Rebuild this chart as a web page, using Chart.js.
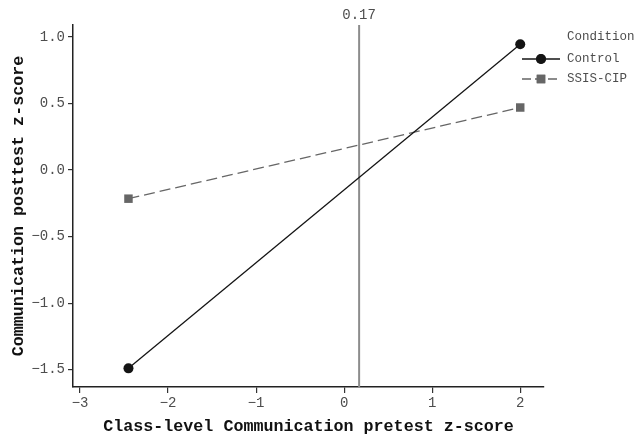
<!DOCTYPE html>
<html lang="en">
<head>
<meta charset="UTF-8">
<title>Communication posttest by pretest</title>
<script src="https://cdn.jsdelivr.net/npm/chart.js"></script>
<style>
  body { margin: 0; background: #fff; }
  #wrap { width: 635px; height: 439px; }
</style>
</head>
<body>
<div id="wrap"><canvas id="slopeChart"></canvas></div>
<script>
// values
const pretestX = [-2.45, 2.0];
const controlY = [-1.49, 0.945];
const ssisY = [-0.215, 0.47];
const seriesNames = ['Control', 'SSIS-CIP'];
const cutoff = 0.17;
const xTicks = [-3, -2, -1, 0, 1, 2];
const yTicks = [-1.5, -1.0, -0.5, 0.0, 0.5, 1.0];
const xRange = [-3.08, 2.27];
const yRange = [-1.63, 1.09];

const MONO = "'Liberation Mono', 'DejaVu Sans Mono', monospace";
Chart.defaults.font.family = MONO;

function minus(s) { return s.replace('-', '\u2212'); }

function toPoints(xs, ys) {
    return xs.map((x, i) => ({ x: x, y: ys[i] }));
}

// legend drawn by hand: line + marker key, like the original
const conditionLegend = {
    id: 'conditionLegend',
    afterDraw(chart) {
        const ctx = chart.ctx;
        const area = chart.chartArea;
        const keyLeft = area.right - 22;
        const keyRight = keyLeft + 38;
        const textX = keyRight + 7;
        ctx.save();
        ctx.font = '12.5px ' + MONO;
        ctx.textBaseline = 'middle';
        ctx.fillStyle = '#4d4d4d';
        ctx.fillText('Condition', textX, 37);

        const rows = [59, 79];
        chart.data.datasets.slice(0, 2).forEach((ds, i) => {
            const y = rows[i];
            ctx.strokeStyle = ds.borderColor;
            ctx.lineWidth = ds.borderWidth;
            ctx.setLineDash(i === 0 ? [] : [9, 4]);
            ctx.beginPath();
            ctx.moveTo(keyLeft, y);
            ctx.lineTo(keyRight, y);
            ctx.stroke();
            ctx.setLineDash([]);
            Chart.helpers.drawPoint(ctx, {
                pointStyle: ds.pointStyle,
                radius: ds.pointRadius,
                borderWidth: 0
            }, (keyLeft + keyRight) / 2, y);
            ctx.fillStyle = ds.pointBackgroundColor;
            ctx.fill();
            ctx.fillStyle = '#4d4d4d';
            ctx.fillText(ds.label, textX, y);
        });
        ctx.restore();
    }
};

const tickFont = { size: 14, family: MONO };
const titleFont = { size: 16.7, weight: 'bold', family: MONO };

new Chart(document.getElementById('slopeChart'), {
    type: 'scatter',
    data: {
        datasets: [
            {
                label: seriesNames[0],
                data: toPoints(pretestX, controlY),
                showLine: true,
                borderColor: '#141414',
                borderWidth: 1.3,
                pointStyle: 'circle',
                pointRadius: 5,
                pointBackgroundColor: '#141414',
                pointBorderWidth: 0,
                order: 1
            },
            {
                label: seriesNames[1],
                data: toPoints(pretestX, ssisY),
                showLine: true,
                borderColor: '#666666',
                borderWidth: 1.3,
                borderDash: [11, 5],
                pointStyle: 'rect',
                pointRadius: 6,
                pointBackgroundColor: '#666666',
                pointBorderWidth: 0,
                order: 2
            },
            {
                label: 'cutoff',
                data: [{ x: cutoff, y: yRange[0] }, { x: cutoff, y: yRange[1] }],
                showLine: true,
                borderColor: '#8c8c8c',
                borderWidth: 2,
                pointRadius: 0,
                order: 3
            }
        ]
    },
    options: {
        responsive: true,
        maintainAspectRatio: false,
        animation: false,
        layout: { padding: { right: 91 } },
        plugins: {
            legend: { display: false },
            tooltip: { enabled: false }
        },
        scales: {
            x: {
                type: 'linear',
                position: 'bottom',
                min: xRange[0],
                max: xRange[1],
                afterBuildTicks: s => { s.ticks = xTicks.map(v => ({ value: v })); },
                afterFit: s => { s.height = 52; },
                grid: { display: true, drawOnChartArea: false, drawTicks: true, tickLength: 6, color: '#333', lineWidth: 1.2 },
                border: { display: true, color: '#222', width: 1.5 },
                ticks: {
                    font: tickFont,
                    color: '#4d4d4d',
                    padding: 2,
                    maxRotation: 0,
                    callback: v => minus(String(v))
                },
                title: {
                    display: true,
                    text: 'Class-level Communication pretest z-score',
                    font: titleFont,
                    color: '#111',
                    padding: { top: 0, bottom: 2 }
                }
            },
            x2: {
                type: 'linear',
                axis: 'x',
                position: 'top',
                min: xRange[0],
                max: xRange[1],
                afterBuildTicks: s => { s.ticks = [{ value: cutoff }]; },
                afterFit: s => { s.height = 25; },
                grid: { display: false },
                border: { display: false },
                ticks: {
                    font: tickFont,
                    color: '#4d4d4d',
                    padding: -7,
                    maxRotation: 0,
                    callback: v => v.toFixed(2)
                }
            },
            y: {
                type: 'linear',
                min: yRange[0],
                max: yRange[1],
                afterBuildTicks: s => { s.ticks = yTicks.map(v => ({ value: v })); },
                afterFit: s => { s.width = 73; },
                grid: { display: true, drawOnChartArea: false, drawTicks: true, tickLength: 5, color: '#333', lineWidth: 1.2 },
                border: { display: true, color: '#222', width: 1.5 },
                ticks: {
                    font: tickFont,
                    color: '#4d4d4d',
                    padding: 3,
                    callback: v => minus(v.toFixed(1))
                },
                title: {
                    display: true,
                    text: 'Communication posttest z-score',
                    font: titleFont,
                    color: '#111',
                    padding: { top: 9, bottom: 0 }
                }
            }
        }
    },
    plugins: [conditionLegend]
});
</script>
</body>
</html>
